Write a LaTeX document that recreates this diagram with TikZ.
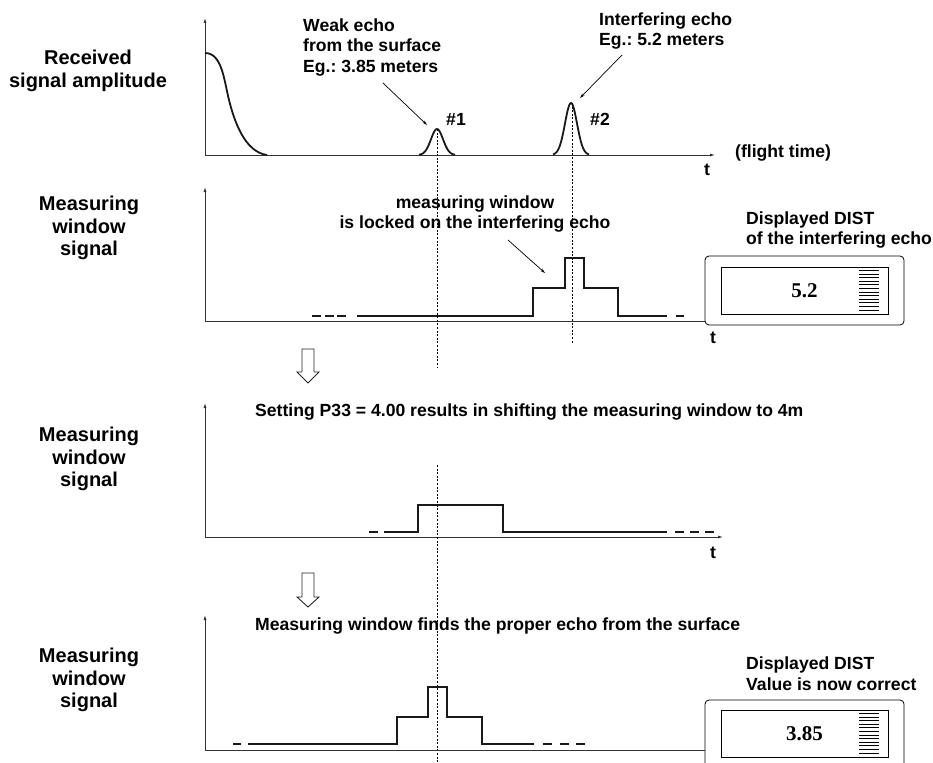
\documentclass[tikz,border=0pt]{standalone}
\usepackage{fontspec}
\setmainfont{Liberation Sans}
\newfontfamily\dispfont{Liberation Serif}
\usetikzlibrary{arrows.meta,positioning,calc}
\frenchspacing
\tikzset{
  lbl/.style={font=\fontsize{20}{22.5}\selectfont\bfseries,align=center,inner sep=0pt},
  note/.style={font=\fontsize{17.6}{20.5}\selectfont\bfseries,align=left,inner sep=0pt},
  ax/.style={line width=0.8pt,draw=black!80},
  axa/.style={ax,-{Latex[length=5pt,width=3pt]}},
  sig/.style={line width=2.4pt,draw=black!90},
  echo/.style={line width=1.8pt,draw=black!90},
  ann/.style={line width=0.7pt,-{Stealth[length=5pt,width=3pt]}},
  vdot/.style={line width=0.8pt,dash pattern=on 2pt off 1.6pt},
  hollow/.style={line width=0.9pt,draw=black!85,fill=white},
  disp/.style={draw,line width=0.8pt,rounded corners=4pt,minimum width=199pt,minimum height=69pt,inner sep=0pt},
  lcd/.style={draw,line width=0.8pt,minimum width=167pt,minimum height=47pt,inner sep=0pt,
    font=\fontsize{21}{22}\dispfont\bfseries},
}
\begin{document}
\begin{tikzpicture}[x=1pt,y=-1pt]
  \useasboundingbox (0,0) rectangle (933,762);
  % panel 1: received signal
  \node[lbl] (rec) at (88,71) {Received\\signal amplitude};
  \coordinate (o1) at (205,155);
  \draw[axa] (o1) -- (205,18);
  \draw[axa] (o1) -- (715,155);
  \node[note,anchor=west] (flt) at (735,153) {(flight time)};
  \node[note] (t1) at (707,170) {t};
  \draw[echo] (205,53) .. controls (222,53) and (224,80) .. (229,100)
    .. controls (234.5,122) and (245,152) .. (267,155);
  \draw[echo] plot[domain=-18:18,samples=41] ({437+\x},{155-26*exp(-(\x/8.5)^2)});
  \draw[echo] plot[domain=-18:18,samples=41] ({571+\x},{155-52*exp(-(\x/8.5)^2)});
  \coordinate (pk1) at (437,129);
  \coordinate (pk2) at (572,103);
  \node[note] (n1) at (456,119) {\#1};
  \node[note] (n2) at (600,119) {\#2};
  \node[note,anchor=west] (weak) at (303,47) {Weak echo\\from the surface\\Eg.: 3.85 meters};
  \node[note,anchor=west] (intf) at (599,31) {Interfering echo\\Eg.: 5.2 meters};
  \coordinate (a1s) at (383,83);  \coordinate (a1e) at (427,125);
  \coordinate (a2s) at (622,55);  \coordinate (a2e) at (580,98);
  \draw[ann] (a1s) -- (a1e);
  \draw[ann] (a2s) -- (a2e);
  % panel 2: window locked on echo #2
  \node[lbl] (mw1) at (89,228) {Measuring\\window\\signal};
  \coordinate (o2) at (205,321);
  \node[disp] (d1) at (804.5,290.5) {};
  \node[lcd] (l1) at (804.5,290.5) {5.2};
  \foreach \i in {0,...,11} \draw[line width=1.1pt] (859,{270.5+3.6*\i}) -- (879,{270.5+3.6*\i});
  \draw[axa] (o2) -- (205,187);
  \draw[ax] (o2) -- (o2 -| d1.west);
  \node[note] (t2) at (713,338) {t};
  \foreach \x in {312,324.5,337} \draw[sig] (\x,316) -- (\x+9,316);
  \draw[sig] (357,316) -| (533,288) -| (565,258) -| (584,288) -| (618,316) -- (667,316);
  \draw[sig] (676,316) -- (684,316);
  \node[note,align=center] (lock) at (475,214) {measuring window\\is locked on the interfering echo};
  \coordinate (a3s) at (508,240); \coordinate (a3e) at (545,273);
  \draw[ann] (a3s) -- (a3e);
  \node[note,anchor=west] (dd1) at (746,230) {Displayed DIST\\of the interfering echo};
  \coordinate (v2b) at (572,343);
  \draw[vdot] (pk2) -- (v2b);
  \coordinate (v1b) at (437,368);
  \draw[vdot] (pk1) -- (v1b);
  % hollow arrows
  \draw[hollow] (302,349) -- (314,349) -- (314,372) -- (319,372) -- (308,383) -- (297,372) -- (302,372) -- cycle;
  \draw[hollow] (302,573) -- (314,573) -- (314,597) -- (319,597) -- (308,607) -- (297,597) -- (302,597) -- cycle;
  % panel 3: window shifted to 4m
  \node[lbl] (mw2) at (89,459) {Measuring\\window\\signal};
  \coordinate (o3) at (205,537);
  \draw[axa] (o3) -- (205,403);
  \draw[axa] (o3) -- (723,537);
  \node[note] (t3) at (713,553) {t};
  \node[note,anchor=west] (set) at (255,412) {Setting P33 = 4.00 results in shifting the measuring window to 4m};
  \draw[sig] (369,532) -- (378,532);
  \draw[sig] (384,532) -| (418,505) -| (503,532) -- (667,532);
  \foreach \x in {675,690,705} \draw[sig] (\x,532) -- (\x+9,532);
  \coordinate (v1t) at (437,465);
  \coordinate (v1e) at (437,762);
  \draw[vdot] (v1t) -- (v1e);
  % panel 4: proper echo found
  \node[lbl] (mw3) at (89,680) {Measuring\\window\\signal};
  \coordinate (o4) at (205,750);
  \node[disp,minimum height=76pt] (d2) at (804.5,738) {};
  \node[lcd] (l2) at (804.5,733.5) {3.85};
  \foreach \i in {0,...,11} \draw[line width=1.1pt] (859,{713.5+3.6*\i}) -- (879,{713.5+3.6*\i});
  \draw[axa] (o4) -- (205,615);
  \draw[ax] (o4) -- (o4 -| d2.west);
  \node[note,anchor=west] (fnd) at (255,626) {Measuring window finds the proper echo from the surface};
  \draw[sig] (233,744) -- (241,744);
  \draw[sig] (248,744) -| (397,717) -| (428,687) -| (447,717) -| (482,744) -- (534,744);
  \foreach \x in {543,560,576} \draw[sig] (\x,744) -- (\x+9,744);
  \node[note,anchor=west] (dd2) at (746,673.5) {Displayed DIST\\Value is now correct};
\end{tikzpicture}
\end{document}
